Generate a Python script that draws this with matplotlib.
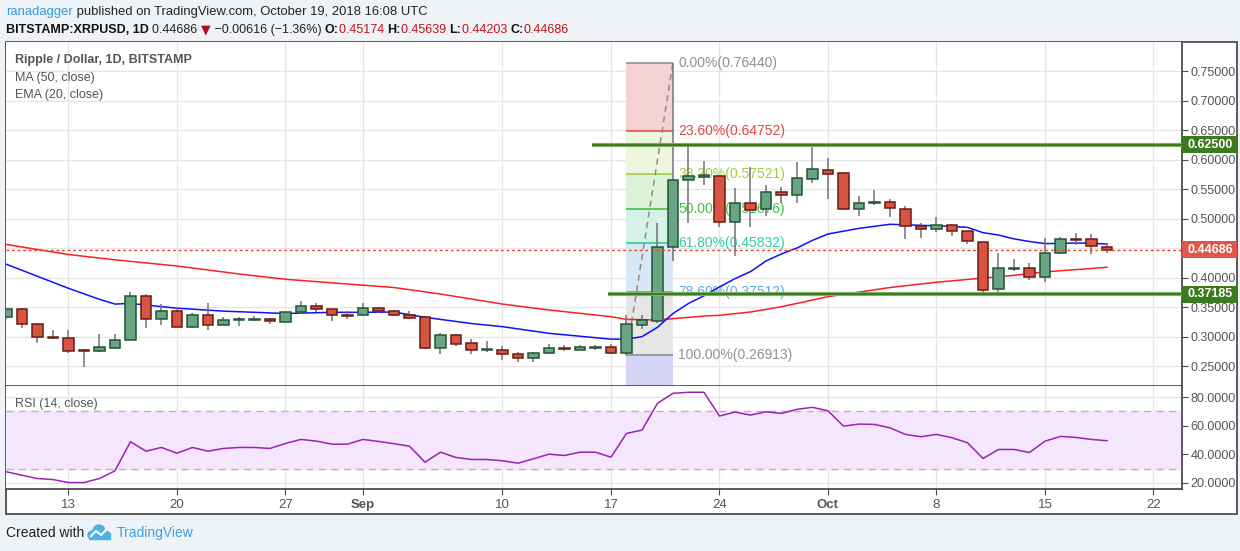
import numpy as np
import pandas as pd
import matplotlib
matplotlib.use('Agg')
import matplotlib.pyplot as plt
from matplotlib.patches import Rectangle, Ellipse
from matplotlib.transforms import blended_transform_factory

plt.rcParams['font.family'] = ['Liberation Sans', 'DejaVu Sans']

# ---------------- data ----------------
start_date = '2018-08-09'
opens = [0.3325, 0.346, 0.3207, 0.299, 0.297, 0.2765, 0.275, 0.280, 0.2935, 0.368,
         0.329, 0.3425, 0.3156, 0.336, 0.319, 0.3275, 0.3275, 0.329, 0.324, 0.341,
         0.351, 0.346, 0.3365, 0.336, 0.348, 0.3427, 0.336, 0.3325, 0.280, 0.302,
         0.2885, 0.2775, 0.2766, 0.2698, 0.263, 0.2715, 0.2805, 0.2766, 0.2812, 0.2817,
         0.2715, 0.319, 0.3258, 0.451, 0.565, 0.571, 0.5715, 0.4936, 0.5258, 0.5156,
         0.5444, 0.5393, 0.5665, 0.5817, 0.5766, 0.5156, 0.5265, 0.5275, 0.5156, 0.4868,
         0.4817, 0.4885, 0.4783, 0.4597, 0.380, 0.414, 0.4156, 0.4003, 0.441, 0.465,
         0.4647, 0.45174]
highs = [0.347, 0.348, 0.323, 0.311, 0.311, 0.278, 0.3037, 0.304, 0.3755, 0.372,
         0.355, 0.350, 0.339, 0.357, 0.3325, 0.3325, 0.3345, 0.331, 0.342, 0.360,
         0.356, 0.347, 0.3427, 0.356, 0.3495, 0.3444, 0.343, 0.3345, 0.3055, 0.305,
         0.296, 0.2925, 0.2834, 0.2732, 0.2732, 0.2868, 0.285, 0.285, 0.285, 0.2868,
         0.336, 0.336, 0.493, 0.7644, 0.626, 0.597, 0.5735, 0.5517, 0.588, 0.557,
         0.554, 0.596, 0.623, 0.6025, 0.578, 0.538, 0.548, 0.5325, 0.5207, 0.492,
         0.502, 0.4902, 0.479, 0.4605, 0.441, 0.431, 0.424, 0.4664, 0.468, 0.475,
         0.4732, 0.45639]
lows = [0.3300, 0.315, 0.2895, 0.296, 0.2725, 0.248, 0.2745, 0.278, 0.2935, 0.315,
        0.320, 0.3155, 0.315, 0.3115, 0.319, 0.318, 0.3258, 0.321, 0.324, 0.3375,
        0.342, 0.326, 0.329, 0.336, 0.339, 0.335, 0.329, 0.279, 0.271, 0.2835,
        0.271, 0.273, 0.2607, 0.2563, 0.2563, 0.2698, 0.275, 0.2766, 0.277, 0.2698,
        0.26913, 0.312, 0.323, 0.4285, 0.493, 0.557, 0.485, 0.437, 0.486, 0.505,
        0.526, 0.5258, 0.5597, 0.5325, 0.5156, 0.505, 0.5225, 0.503, 0.4647, 0.4664,
        0.4766, 0.4698, 0.4563, 0.375, 0.375, 0.4105, 0.3953, 0.392, 0.4393, 0.4546,
        0.4393, 0.44203]
closes = [0.346, 0.321, 0.2987, 0.297, 0.275, 0.2755, 0.2817, 0.2935, 0.368, 0.329,
          0.3427, 0.3156, 0.336, 0.319, 0.3275, 0.329, 0.329, 0.326, 0.341, 0.351,
          0.346, 0.336, 0.3355, 0.348, 0.343, 0.336, 0.331, 0.280, 0.302, 0.287,
          0.2766, 0.2785, 0.2698, 0.263, 0.2715, 0.280, 0.2795, 0.2817, 0.282, 0.2715,
          0.3207, 0.3275, 0.451, 0.565, 0.5715, 0.573, 0.4936, 0.5258, 0.514, 0.5444,
          0.5393, 0.5686, 0.584, 0.575, 0.5156, 0.5258, 0.5275, 0.5173, 0.4868, 0.4817,
          0.4885, 0.4783, 0.4614, 0.3783, 0.4156, 0.4156, 0.4003, 0.441, 0.4647, 0.4643,
          0.4530, 0.44686]

ma50_days = [0, 4, 7, 11, 15, 18, 21, 25, 28, 32, 35, 39, 40, 42, 45, 46, 48, 50,
             53, 57, 60, 63, 65, 67, 71]
ma50_vals = [0.456, 0.439, 0.430, 0.4195, 0.406, 0.397, 0.391, 0.383, 0.372, 0.355,
             0.345, 0.3336, 0.329, 0.328, 0.3347, 0.336, 0.3415, 0.3505, 0.3675, 0.383,
             0.392, 0.399, 0.4037, 0.4095, 0.4173]

ema20_days = [0, 4, 6, 7, 8, 11, 14, 18, 21, 23, 25, 27, 30, 32, 35, 39, 40, 41, 42,
              43, 44, 45, 46, 47, 48, 49, 50, 51, 52, 53, 55, 57, 59, 61, 62, 63, 64,
              65, 66, 67, 68, 69, 70, 71]
ema20_vals = [0.4224, 0.3817, 0.363, 0.355, 0.356, 0.348, 0.343, 0.339, 0.341, 0.341,
              0.3415, 0.3325, 0.322, 0.3167, 0.3054, 0.2955, 0.2955, 0.2997, 0.3156,
              0.339, 0.356, 0.369, 0.384, 0.398, 0.410, 0.428, 0.440, 0.450, 0.463,
              0.4737, 0.4833, 0.4902, 0.4885, 0.4865, 0.485, 0.476, 0.472, 0.4655,
              0.461, 0.4575, 0.4578, 0.4585, 0.458, 0.4568]

rsi_vals = [27.8, 25.4, 23.1, 22.4, 20.3, 20.3, 23.1, 28.5, 48.8, 42.2,
            44.8, 40.8, 44.8, 42.2, 44.1, 44.8, 44.8, 44.1, 47.6, 50.4,
            49.2, 47.1, 47.1, 50.4, 49.0, 47.4, 45.7, 34.5, 41.5, 37.8,
            36.4, 36.4, 35.5, 33.8, 36.9, 40.1, 39.2, 41.5, 41.5, 38.0,
            54.6, 56.9, 75.6, 82.6, 83.3, 83.3, 66.7, 69.5, 67.4, 69.7,
            68.6, 71.4, 72.8, 70.4, 59.7, 61.1, 60.9, 58.5, 53.9, 52.3,
            53.9, 51.6, 48.1, 37.1, 43.4, 43.4, 41.3, 49.2, 52.5, 51.8,
            50.4, 49.5]

fib_levels = [0.76440, 0.64752, 0.57521, 0.51676, 0.45832, 0.37512, 0.26913]
fib_pcts = ['0.00%', '23.60%', '38.20%', '50.00%', '61.80%', '78.60%', '100.00%']
fib_start, fib_end = '2018-09-18', '2018-09-21'

res_level, res_start = 0.62500, '2018-09-16'
sup_level, sup_start = 0.37185, '2018-09-17'
last_price = 0.44686

tick_dates = ['2018-08-13', '2018-08-20', '2018-08-27', '2018-09-01', '2018-09-10',
              '2018-09-17', '2018-09-24', '2018-10-01', '2018-10-08', '2018-10-15',
              '2018-10-22']
tick_labels = ['13', '20', '27', 'Sep', '10', '17', '24', 'Oct', '8', '15', '22']
price_ticks = [0.25, 0.30, 0.35, 0.40, 0.45, 0.50, 0.55, 0.60, 0.65, 0.70, 0.75]
rsi_ticks = [20, 40, 60, 80]

# ---------------- helpers ----------------
t0 = pd.Timestamp(start_date)
def dpos(s):
    return (pd.Timestamp(s) - t0).days

n = len(opens)
xs = np.arange(n)

W, H = 1240, 551
fig = plt.figure(figsize=(W / 100, H / 100), dpi=100, facecolor='#eff2f6')
def fx(px): return px / W
def fy(py): return 1 - py / H

fig.add_artist(Rectangle((fx(6), fy(514)), fx(1237) - fx(6), fy(42) - fy(514),
                         transform=fig.transFigure, facecolor='white',
                         edgecolor='#4d4d4d', lw=1.3, zorder=-5))

XL = (-0.03, 75.84)
AXC = '#4d4d4d'
GRID = '#e6e6e6'
LBL = '#555555'

ax = fig.add_axes([fx(6), fy(386), (1182 - 6) / W, (386 - 42) / H])
ax.set_xlim(*XL)
ax.set_ylim(0.2161, 0.7992)
for s in ['left', 'top']:
    ax.spines[s].set_visible(False)
for s in ['right', 'bottom']:
    ax.spines[s].set_color(AXC)
    ax.spines[s].set_linewidth(1.3)
ax.yaxis.tick_right()
ax.set_yticks(price_ticks)
# the 0.45000 label sits under the last-price box in the reference
ax.set_yticklabels(['' if abs(v - last_price) < 0.01 else f'{v:.5f}' for v in price_ticks])
ax.tick_params(axis='y', length=4, color=AXC, labelsize=9, labelcolor=LBL, pad=2)
tpos = [dpos(d) for d in tick_dates]
ax.set_xticks(tpos)
ax.tick_params(axis='x', length=0, labelbottom=False)
ax.grid(color=GRID, lw=1)
ax.set_axisbelow(True)

# fib retracement
fx0, fx1 = dpos(fib_start), dpos(fib_end)
band_cols = ['#f5d2d2', '#eef6dd', '#dcf2d6', '#d6f2e8', '#d6e9f5', '#e6e6e6']
for i in range(len(fib_levels) - 1):
    ax.add_patch(Rectangle((fx0, fib_levels[i + 1]), fx1 - fx0,
                           fib_levels[i] - fib_levels[i + 1],
                           facecolor=band_cols[i], edgecolor='none', zorder=1))
ax.add_patch(Rectangle((fx0, 0.15), fx1 - fx0, fib_levels[-1] - 0.15,
                       facecolor='#d4d4f4', edgecolor='none', zorder=1))
line_cols = ['#8a8a8a', '#e0453a', '#9ccc3a', '#3cbc3c', '#26c99a', '#4aa6dd', '#8a8a8a']
txt_cols = ['#909090', '#dd4a44', '#a2cc44', '#44c044', '#33cf9e', '#5aaee0', '#909090']
for lv, pc, lc, tc in zip(fib_levels, fib_pcts, line_cols, txt_cols):
    ax.hlines(lv, fx0, fx1, color=lc, lw=1.1, zorder=1.5)
    ax.text(fx1 + 0.33, lv, f'{pc}({lv:.5f})', color=tc, fontsize=10,
            va='center', ha='left', zorder=1.6)
ax.plot([fx0, fx1], [fib_levels[-1], fib_levels[0]], color='#8c8c8c', lw=1.1,
        ls=(0, (4, 3)), zorder=1.7)

# moving averages
ax.plot(ma50_days, ma50_vals, color='#ff1f1f', lw=1.1, zorder=2.5)
ax.plot(ema20_days, ema20_vals, color='#1010ff', lw=1.1, zorder=2.5)

# candles
for i in range(n):
    o, h, l, c = opens[i], highs[i], lows[i], closes[i]
    up = c >= o
    fill = '#6aa583' if up else '#d75442'
    edge = '#225437' if up else '#6b1a12'
    ax.vlines(xs[i], l, h, color='#737375', lw=1.1, zorder=3)
    lo = min(o, c)
    hh = max(abs(c - o), 0.0006)
    ax.add_patch(Rectangle((xs[i] - 0.345, lo), 0.69, hh, facecolor=fill,
                           edgecolor=edge, lw=1.1, zorder=4))

# support / resistance
for lvl, st in ((res_level, res_start), (sup_level, sup_start)):
    x_st = dpos(st) - 0.2
    ax.hlines(lvl, x_st, XL[1], color='#7fae66', lw=3.0, zorder=5)
    ax.hlines(lvl, x_st, XL[1], color='#3d7a20', lw=1.4, zorder=5.1)

# last price line
ax.axhline(last_price, color='#d9473a', lw=1, ls=(0, (2, 2)), zorder=5)

# price axis labels
bt = blended_transform_factory(ax.transAxes, ax.transData)
def axis_box(val, col):
    hh = 17 / 590
    ax.add_patch(Rectangle((1.0, val - hh / 2), 55 / 1176, hh, transform=bt,
                           facecolor=col, edgecolor='none', clip_on=False, zorder=10))
    ax.text(1.0 + 5 / 1176, val, f'{val:.5f}', transform=bt, color='white',
            fontsize=9, fontweight='bold', va='center', ha='left', zorder=11)
axis_box(res_level, '#3b7a1e')
axis_box(sup_level, '#3b7a1e')
axis_box(last_price, '#e0574a')

# ---------------- RSI ----------------
ax2 = fig.add_axes([fx(6), fy(489), (1182 - 6) / W, (489 - 386) / H])
ax2.set_xlim(*XL)
ax2.set_ylim(15.8, 87.7)
for s in ['left', 'top']:
    ax2.spines[s].set_visible(False)
for s in ['right', 'bottom']:
    ax2.spines[s].set_color(AXC)
    ax2.spines[s].set_linewidth(1.3)
ax2.yaxis.tick_right()
ax2.set_yticks(rsi_ticks)
ax2.set_yticklabels([f'{v:.4f}' for v in rsi_ticks])
ax2.tick_params(axis='y', length=4, color=AXC, labelsize=9, labelcolor=LBL, pad=2)
ax2.set_xticks(tpos)
ax2.set_xticklabels(tick_labels)
ax2.tick_params(axis='x', length=4, color=AXC, labelsize=9.5, labelcolor=LBL, pad=3)
for lab in ax2.get_xticklabels():
    if lab.get_text() in ('Sep', 'Oct'):
        lab.set_fontweight('bold')
ax2.grid(color=GRID, lw=1)
ax2.set_axisbelow(True)
ax2.fill_between(XL, 30, 70, color='#f3e6fd', zorder=1)
ax2.axhline(70, color='#b9b2c6', lw=1, ls=(0, (5, 4)), zorder=1.5)
ax2.axhline(30, color='#b9b2c6', lw=1, ls=(0, (5, 4)), zorder=1.5)
ax2.plot(xs, rsi_vals, color='#9c22b4', lw=1.1, zorder=3)

# ---------------- texts ----------------
fig.canvas.draw()
rend = fig.canvas.get_renderer()
def seq_text(x_px, y_px, pieces, size):
    xcur = x_px
    for txt, kw in pieces:
        t = fig.text(fx(xcur), fy(y_px), txt, fontsize=size, va='center', ha='left', **kw)
        bb = t.get_window_extent(rend)
        xcur += bb.width

seq_text(6, 12, [('ranadagger', dict(color='#2f9de0')),
                 (' published on TradingView.com, October 19, 2018 16:08 UTC', dict(color='#222222'))], 9.35)
seq_text(6, 30, [('BITSTAMP:XRPUSD, 1D ', dict(color='#111111', fontweight='bold')),
                 ('0.44686 ', dict(color='#222222')),
                 ('\u25bc', dict(color='#b01010', family=['DejaVu Sans'])),
                 (' \u22120.00616 (\u22121.36%) ', dict(color='#222222')),
                 ('O:', dict(color='#111111', fontweight='bold')),
                 ('0.45174 ', dict(color='#c0141a')),
                 ('H:', dict(color='#111111', fontweight='bold')),
                 ('0.45639 ', dict(color='#c0141a')),
                 ('L:', dict(color='#111111', fontweight='bold')),
                 ('0.44203 ', dict(color='#c0141a')),
                 ('C:', dict(color='#111111', fontweight='bold')),
                 ('0.44686', dict(color='#c0141a'))], 9)

fig.text(fx(15), fy(60), 'Ripple / Dollar, 1D, BITSTAMP', fontsize=9, color=LBL,
         fontweight='bold', va='center')
fig.text(fx(15), fy(78), 'MA (50, close)', fontsize=9, color=LBL, va='center')
fig.text(fx(15), fy(95), 'EMA (20, close)', fontsize=9, color=LBL, va='center')
fig.text(fx(15), fy(404), 'RSI (14, close)', fontsize=9, color=LBL, va='center')

fig.text(fx(6), fy(533), 'Created with', fontsize=10, color='#222222', va='center')
# TradingView logo (simple cloud)
lc = '#4db3e6'
fig.add_artist(Ellipse((fx(99), fy(531)), fx(12), 12 / H, transform=fig.transFigure, color=lc))
fig.add_artist(Ellipse((fx(93), fy(535)), fx(10), 8 / H, transform=fig.transFigure, color=lc))
fig.add_artist(Ellipse((fx(105), fy(535)), fx(10), 8 / H, transform=fig.transFigure, color=lc))
fig.add_artist(Rectangle((fx(89), fy(539)), fx(21), 6 / H, transform=fig.transFigure, color=lc))
fig.add_artist(plt.Line2D([fx(91), fx(96), fx(101), fx(106)], [fy(536), fy(531), fy(535), fy(530)],
                          transform=fig.transFigure, color='white', lw=1.5))
fig.text(fx(117), fy(533), 'TradingView', fontsize=10, color='#3ba3e0', va='center')

fig.savefig('out.png', dpi=100, facecolor=fig.get_facecolor())
